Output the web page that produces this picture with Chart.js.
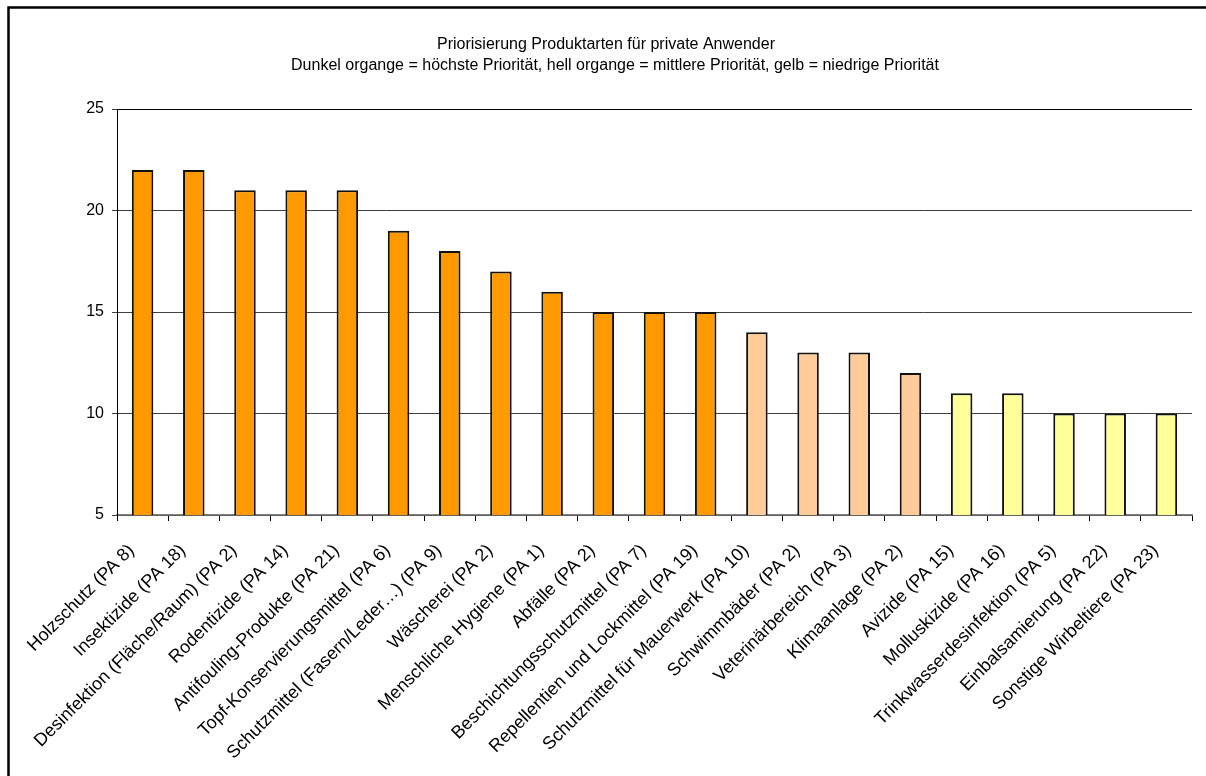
<!DOCTYPE html>
<html>
<head>
<meta charset="utf-8">
<script src="https://cdn.jsdelivr.net/npm/chart.js@4.4.1/dist/chart.umd.min.js"></script>
<style>
  html, body { margin: 0; padding: 0; background: #fff; }
  #wrap { position: relative; width: 1206px; height: 776px; }
</style>
</head>
<body>
<div id="wrap"><canvas id="c" width="1206" height="776"></canvas></div>
<script>
const categories = [
  'Holzschutz (PA 8)',
  'Insektizide (PA 18)',
  'Desinfektion (Fläche/Raum) (PA 2)',
  'Rodentizide (PA 14)',
  'Antifouling-Produkte (PA 21)',
  'Topf-Konservierungsmittel (PA 6)',
  'Schutzmittel (Fasern/Leder…) (PA 9)',
  'Wäscherei (PA 2)',
  'Menschliche Hygiene (PA 1)',
  'Abfälle (PA 2)',
  'Beschichtungsschutzmittel (PA 7)',
  'Repellentien und Lockmittel (PA 19)',
  'Schutzmittel für Mauerwerk (PA 10)',
  'Schwimmbäder (PA 2)',
  'Veterinärbereich (PA 3)',
  'Klimaanlage (PA 2)',
  'Avizide (PA 15)',
  'Molluskizide (PA 16)',
  'Trinkwasserdesinfektion (PA 5)',
  'Einbalsamierung (PA 22)',
  'Sonstige Wirbeltiere (PA 23)'
];
const priorityScores = [22, 22, 21, 21, 21, 19, 18, 17, 16, 15, 15, 15, 14, 13, 13, 12, 11, 11, 10, 10, 10];
// 1 = höchste, 2 = mittlere, 3 = niedrige Priorität
const priorityLevel = [1, 1, 1, 1, 1, 1, 1, 1, 1, 1, 1, 1, 2, 2, 2, 2, 3, 3, 3, 3, 3];
const yTicks = [5, 10, 15, 20, 25];
const titleLines = [
  'Priorisierung Produktarten für private Anwender',
  'Dunkel organge = höchste Priorität, hell organge = mittlere Priorität, gelb = niedrige Priorität'
];

const levelColors = { 1: '#FF9900', 2: '#FFCC99', 3: '#FFFF99' };
const FONT = 'Arial, "Liberation Sans", sans-serif';

// Frame and two-line title
const decor = {
  id: 'decor',
  beforeDraw(chart) {
    const ctx = chart.ctx;
    ctx.save();
    ctx.fillStyle = '#fff';
    ctx.fillRect(0, 0, chart.width, chart.height);
    ctx.strokeStyle = '#000';
    ctx.lineWidth = 2.5;
    ctx.beginPath();
    ctx.moveTo(8.5, chart.height + 5);
    ctx.lineTo(8.5, 7.5);
    ctx.lineTo(chart.width + 5, 7.5);
    ctx.stroke();
    ctx.fillStyle = '#000';
    ctx.font = '16px ' + FONT;
    ctx.textAlign = 'center';
    ctx.textBaseline = 'middle';
    ctx.fillText(titleLines[0], 606, 45);
    ctx.fillText(titleLines[1], 615, 66);
    ctx.restore();
  },
  afterDatasetsDraw(chart) {
    // dark top border of the plot area
    const a = chart.chartArea, ctx = chart.ctx;
    ctx.save();
    ctx.strokeStyle = '#000';
    ctx.lineWidth = 1;
    ctx.beginPath();
    ctx.moveTo(a.left, Math.round(a.top) + 0.5);
    ctx.lineTo(a.right, Math.round(a.top) + 0.5);
    ctx.stroke();
    ctx.restore();
  }
};

new Chart(document.getElementById('c'), {
  type: 'bar',
  data: {
    labels: categories,
    datasets: [{
      data: priorityScores,
      backgroundColor: priorityLevel.map(l => levelColors[l]),
      borderColor: '#111',
      borderWidth: 2,
      borderSkipped: false,
      barPercentage: 0.42,
      categoryPercentage: 1.0
    }]
  },
  options: {
    responsive: false,
    animation: false,
    devicePixelRatio: 1,
    layout: { padding: { top: 109, right: 14, left: 0, bottom: 0 } },
    plugins: { legend: { display: false }, title: { display: false }, tooltip: { enabled: false } },
    scales: {
      x: {
        grid: { display: true, drawOnChartArea: false, drawTicks: true, tickLength: 6, color: '#000', offset: true },
        border: { display: true, color: '#808080', width: 1.5 },
        ticks: {
          color: '#000',
          font: { family: FONT, size: 18 },
          maxRotation: 45, minRotation: 45,
          autoSkip: false,
          padding: 19,
          labelOffset: -11
        },
        afterFit(scale) { scale.height = 776 - 515; }
      },
      y: {
        min: 5, max: 25,
        afterBuildTicks(scale) { scale.ticks = yTicks.map(v => ({ value: v })); },
        grid: { color: '#404040', lineWidth: 1, tickLength: 5, drawTicks: true },
        border: { display: true, color: '#000', width: 1 },
        ticks: {
          color: '#000',
          font: { family: FONT, size: 16 },
          padding: 8
        },
        afterFit(scale) { scale.width = 117; }
      }
    }
  },
  plugins: [decor]
});
</script>
</body>
</html>
